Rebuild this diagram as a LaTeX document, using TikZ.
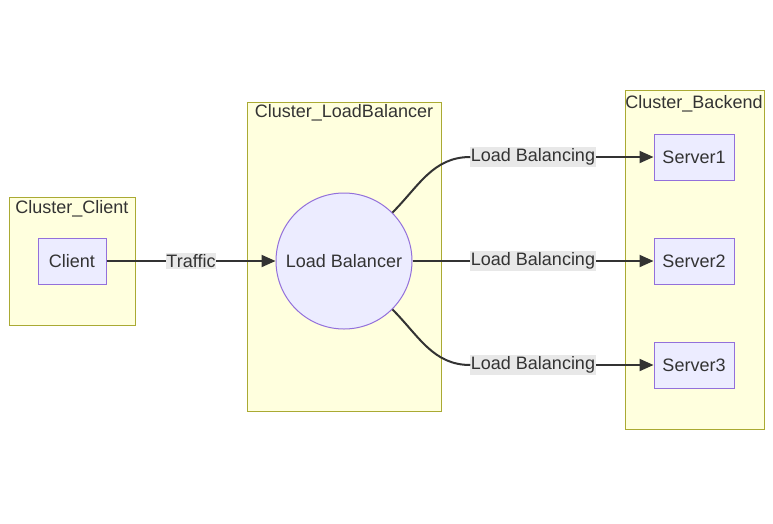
\documentclass[tikz,border=0pt]{standalone}
\usepackage{fontspec}
\setmainfont{Liberation Sans}
\usepackage{xcolor}
\usetikzlibrary{arrows.meta, positioning}

\definecolor{clfill}{HTML}{FFFFDE}
\definecolor{cldraw}{HTML}{AAAA33}
\definecolor{ndfill}{HTML}{ECECFF}
\definecolor{nddraw}{HTML}{9370DB}
\definecolor{edgecol}{HTML}{333333}
\definecolor{lblfill}{HTML}{E8E8E8}

\begin{document}
\begin{tikzpicture}[x=1pt, y=-1pt,
  every node/.style={text=edgecol, font=\fontsize{18}{21}\selectfont},
  cluster/.style={draw=cldraw, fill=clfill, line width=1pt},
  clustertitle/.style={inner sep=0pt, anchor=north},
  box/.style={draw=nddraw, fill=ndfill, line width=1pt, minimum height=46pt, inner sep=0pt},
  lbl/.style={fill=lblfill, inner xsep=0.5pt, inner ysep=1.5pt},
  link/.style={draw=edgecol, line width=2pt}]
\useasboundingbox (0,0) rectangle (773,523);

% clusters
\draw[cluster] (9,197) rectangle (135,325);
\node[clustertitle] (tclient) at (72,200) {Cluster\_Client};
\draw[cluster] (247,102) rectangle (441,411);
\node[clustertitle] (tlb) at (344,104) {Cluster\_LoadBalancer};
\draw[cluster] (625,90) rectangle (764,429);
\node[clustertitle] (tback) at (694,95) {Cluster\_Backend};

% nodes
\node[box, minimum width=68pt] (client) at (72,261) {Client};
\node[draw=nddraw, fill=ndfill, line width=1pt, circle, minimum size=136pt, inner sep=0pt] (lb) at (344,261) {Load Balancer};
\node[box, minimum width=80pt] (s1) at (694,157) {Server1};
\node[box, minimum width=80pt] (s2) at (694,261) {Server2};
\node[box, minimum width=80pt] (s3) at (694,365) {Server3};

% edge labels
\node[lbl] (ltraffic) at (191,261) {Traffic};
\node[lbl] (l1) at (533,157) {Load Balancing};
\node[lbl] (l2) at (533,261) {Load Balancing};
\node[lbl] (l3) at (533,365) {Load Balancing};

% edges
\draw[link] (client.east) -- (ltraffic.west);
\draw[link, -{Triangle[length=14pt, width=12pt]}] (ltraffic.east) -- (lb.west);
\draw[link] (lb.45) to[out=45, in=180] (l1.west);
\draw[link] (lb.east) -- (l2.west);
\draw[link] (lb.-45) to[out=-45, in=180] (l3.west);
\foreach \i in {1,2,3} {
  \draw[link, -{Triangle[length=14pt, width=12pt]}] (l\i.east) -- (s\i.west);
}
\end{tikzpicture}
\end{document}
